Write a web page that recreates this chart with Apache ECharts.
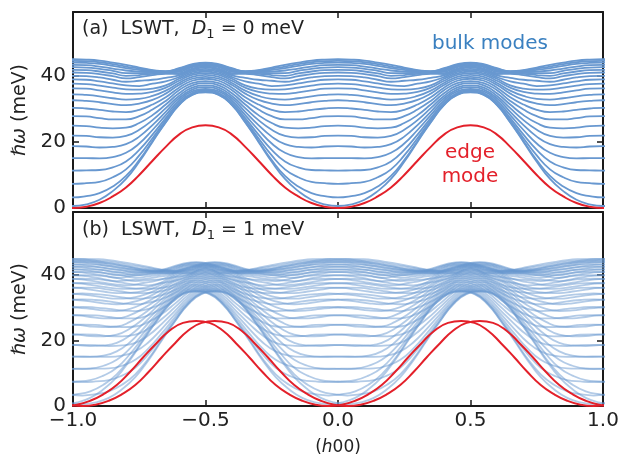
<!DOCTYPE html>
<html>
<head>
<meta charset="utf-8">
<script src="https://cdn.jsdelivr.net/npm/echarts@6/dist/echarts.min.js"></script>
<style>
html, body { margin: 0; padding: 0; background: #fff; }
#main { width: 622px; height: 458px; }
</style>
</head>
<body>
<div id="main"></div>
<script>
// half-period sampling in h (distance from the nearest integer h), bands are symmetric and periodic
var hGrid = [0, 0.05, 0.1, 0.15, 0.2, 0.25, 0.3, 0.35, 0.4, 0.45, 0.5];

// panel (a): bulk modes at each hGrid point (meV)
var bulkModes = [
    [0.6, 1.1, 2.5, 5.1, 8.8, 14.0, 20.0, 25.9, 31.1, 34.2, 35.0],
    [3.2, 3.6, 4.5, 6.5, 9.7, 14.5, 20.3, 26.0, 31.2, 34.3, 35.1],
    [7.3, 7.5, 7.9, 9.3, 11.7, 15.9, 21.1, 26.5, 31.5, 34.5, 35.2],
    [11.3, 11.4, 11.5, 12.3, 14.1, 17.6, 22.2, 27.2, 31.9, 34.8, 35.6],
    [15.1, 15.1, 15.0, 15.4, 16.7, 19.5, 23.6, 28.1, 32.5, 35.3, 36.0],
    [18.7, 18.6, 18.3, 18.5, 19.3, 21.6, 25.1, 29.1, 33.2, 35.8, 36.6],
    [21.9, 21.8, 21.4, 21.3, 21.8, 23.7, 26.6, 30.2, 33.9, 36.4, 37.1],
    [24.9, 24.8, 24.3, 24.1, 24.3, 25.7, 28.1, 31.3, 34.7, 37.1, 37.8],
    [27.8, 27.7, 27.2, 26.8, 26.8, 27.8, 29.8, 32.4, 35.6, 37.8, 38.4],
    [30.3, 30.1, 29.7, 29.2, 29.0, 29.7, 31.3, 33.5, 36.4, 38.5, 39.1],
    [32.6, 32.4, 32.0, 31.4, 31.1, 31.6, 32.7, 34.6, 37.2, 39.1, 39.7],
    [34.4, 34.2, 33.8, 33.2, 32.8, 33.0, 33.9, 35.5, 37.8, 39.7, 40.3],
    [36.2, 36.1, 35.6, 35.0, 34.5, 34.6, 35.1, 36.4, 38.5, 40.3, 40.8],
    [37.6, 37.5, 37.0, 36.4, 35.9, 35.8, 36.1, 37.1, 39.1, 40.7, 41.3],
    [38.9, 38.8, 38.3, 37.7, 37.1, 36.9, 37.6, 38.3, 39.6, 41.2, 41.7],
    [40.0, 39.9, 39.5, 38.8, 38.2, 38.5, 38.8, 39.4, 40.1, 41.6, 42.1],
    [41.0, 40.9, 40.5, 39.9, 39.2, 39.6, 40.2, 40.6, 40.5, 41.9, 42.5],
    [41.8, 41.7, 41.3, 40.7, 40.0, 40.2, 40.6, 40.8, 40.8, 42.2, 42.8],
    [42.6, 42.5, 42.1, 41.5, 40.8, 40.8, 40.9, 41.0, 41.2, 42.6, 43.1],
    [43.3, 43.2, 42.8, 42.2, 41.6, 41.3, 41.2, 41.1, 41.5, 42.8, 43.3],
    [44.0, 43.9, 43.6, 43.0, 42.3, 41.8, 41.4, 41.2, 41.8, 43.1, 43.6],
    [44.5, 44.4, 44.1, 43.5, 42.8, 42.2, 41.6, 41.3, 42.1, 43.3, 43.8],
    [45.0, 44.9, 44.6, 44.0, 43.3, 42.5, 41.7, 41.4, 42.3, 43.5, 44.0]
];
var edgeMode = [0, 0.4, 1.5, 3.5, 6.2, 10.0, 14.3, 18.5, 22.2, 24.4, 25.0];

// panel (b): every mode splits into two copies displaced along h; edge mode peaks a little higher
var dmShift = 0.035;
var edgeModeB = [0, 0.4, 1.6, 3.6, 6.4, 10.4, 14.9, 19.2, 23.1, 25.4, 26.0];

var xTicks = [-1, -0.5, 0, 0.5, 1];
var yTicks = [0, 20, 40];

var blue = '#6898d0';
var red = '#e3202a';
var ink = '#1a1a1a';
var font = 'DejaVu Sans';

// lay a half-period profile out over several periods of h
function unfold(profile, shift) {
    var pts = [];
    for (var n = -2; n < 2; n++) {
        for (var i = 0; i < hGrid.length; i++) pts.push([n + hGrid[i] + shift, profile[i]]);
        for (var j = hGrid.length - 2; j >= 1; j--) pts.push([n + 1 - hGrid[j] + shift, profile[j]]);
    }
    pts.push([2 + shift, profile[0]]);
    return pts;
}

function lineSeries(data, panel, color, width, opacity, z) {
    return {
        type: 'line', data: data, xAxisIndex: panel * 2, yAxisIndex: panel * 2,
        showSymbol: false, smooth: 0.5, silent: true, clip: true, z: z,
        lineStyle: { color: color, width: width, opacity: opacity }
    };
}

var series = [];
bulkModes.forEach(function (b) { series.push(lineSeries(unfold(b, 0), 0, blue, 1.8, 1, 2)); });
series.push(lineSeries(unfold(edgeMode, 0), 0, red, 2, 1, 3));
bulkModes.forEach(function (b) {
    series.push(lineSeries(unfold(b, -dmShift), 1, blue, 1.8, 0.5, 2));
    series.push(lineSeries(unfold(b, dmShift), 1, blue, 1.8, 0.5, 2));
});
series.push(lineSeries(unfold(edgeModeB, -dmShift), 1, red, 2, 1, 3));
series.push(lineSeries(unfold(edgeModeB, dmShift), 1, red, 2, 1, 3));

var frame = { onZero: false, lineStyle: { color: ink, width: 2 } };
var tick = { inside: true, length: 6, lineStyle: { color: ink, width: 1.5 } };
var italic = { fontStyle: 'italic', fontFamily: font, color: '#222' };

function xAxes(grid, labels) {
    return [{
        type: 'value', gridIndex: grid, position: 'bottom', min: -1, max: 1, interval: 0.5,
        axisLine: frame, axisTick: tick, splitLine: { show: false },
        axisLabel: {
            show: labels, color: '#222', fontFamily: font, fontSize: 20, margin: 5,
            formatter: function (v) { return (v < 0 ? '\u2212' : '') + Math.abs(v).toFixed(1); }
        },
        name: labels ? '({i|h}00)' : '', nameLocation: 'middle', nameGap: 33,
        nameTextStyle: { color: '#222', fontFamily: font, fontSize: 17, rich: { i: Object.assign({ fontSize: 17 }, italic) } }
    }, {
        type: 'value', gridIndex: grid, position: 'top', min: -1, max: 1, interval: 0.5,
        axisLine: frame, axisTick: tick, axisLabel: { show: false }, splitLine: { show: false }
    }];
}

function yAxes(grid) {
    return [{
        type: 'value', gridIndex: grid, position: 'left', min: 0, max: 59.3, interval: 20,
        axisLine: frame, axisTick: tick, splitLine: { show: false },
        axisLabel: {
            color: '#222', fontFamily: font, fontSize: 20, margin: 7,
            formatter: function (v) { return yTicks.indexOf(v) >= 0 ? String(v) : ''; }
        },
        name: '{i|\u210F\u03C9} (meV)', nameLocation: 'middle', nameRotate: 90, nameGap: 32,
        nameTextStyle: { color: '#222', fontFamily: font, fontSize: 19, rich: { i: Object.assign({ fontSize: 19 }, italic) } }
    }, {
        type: 'value', gridIndex: grid, position: 'right', min: 0, max: 59.3, interval: 20,
        axisLine: frame, axisTick: tick, axisLabel: { show: false }, splitLine: { show: false }
    }];
}

function panelLabel(tag, value, top) {
    return {
        type: 'text', left: 82, top: top, z: 10,
        style: {
            text: '{n|(' + tag + ')  LSWT,  }{i|D}{s|1}{n| = ' + value + ' meV}',
            rich: {
                n: { fontFamily: font, fontSize: 19, fill: '#222', lineHeight: 24, verticalAlign: 'middle' },
                i: { fontFamily: font, fontSize: 19, fill: '#222', fontStyle: 'italic', lineHeight: 24, verticalAlign: 'middle' },
                s: { fontFamily: font, fontSize: 13, fill: '#222', lineHeight: 14, verticalAlign: 'bottom' }
            }
        }
    };
}

var chart = echarts.init(document.getElementById('main'));
chart.setOption({
    animation: false,
    backgroundColor: '#fff',
    grid: [
        { left: 73, top: 12, width: 530, height: 196, containLabel: false, outerBoundsMode: 'none' },
        { left: 73, top: 212, width: 530, height: 194, containLabel: false, outerBoundsMode: 'none' }
    ],
    xAxis: xAxes(0, false).concat(xAxes(1, true)),
    yAxis: yAxes(0).concat(yAxes(1)),
    series: series,
    graphic: [
        panelLabel('a', '0', 20),
        panelLabel('b', '1', 221),
        { type: 'text', left: 432, top: 34, z: 10, style: { text: 'bulk modes', fontFamily: font, fontSize: 20, fill: '#3a80c0' } },
        { type: 'text', x: 470, y: 141, z: 10, style: { text: 'edge\nmode', fontFamily: font, fontSize: 20, lineHeight: 24, fill: red, align: 'center' } }
    ]
});
</script>
</body>
</html>
